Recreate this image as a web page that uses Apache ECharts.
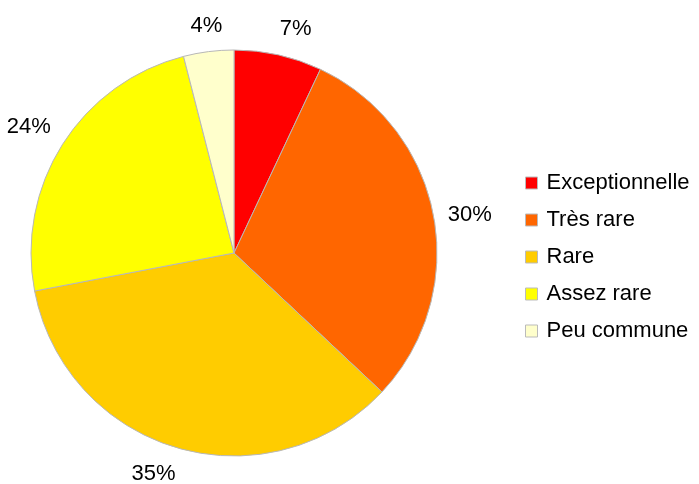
<!DOCTYPE html>
<html>
<head>
<meta charset="utf-8">
<script src="https://cdn.jsdelivr.net/npm/echarts@6/dist/echarts.min.js"></script>
<style>html,body{margin:0;padding:0;background:#fff;}#c{width:699px;height:484px;}</style>
</head>
<body>
<div id="c"></div>
<script>
const categories = ['Exceptionnelle', 'Très rare', 'Rare', 'Assez rare', 'Peu commune'];
const values = [7, 30, 35, 24, 4];
const colors = ['#FF0000', '#FF6600', '#FFCC00', '#FFFF00', '#FFFFCC'];

const PIE_CENTER = [234, 253];

function ramp(s, a, b) {
  const m = Math.min(1, Math.max(0, (Math.abs(s) - a) / b));
  return s < 0 ? -m : m;
}

const chart = echarts.init(document.getElementById('c'), null, {renderer: 'canvas'});
chart.setOption({
  animation: false,
  backgroundColor: '#ffffff',
  legend: {
    orient: 'vertical',
    left: 520,
    top: 167,
    itemWidth: 12,
    itemHeight: 12,
    itemGap: 15,
    icon: 'rect',
    textStyle: {fontFamily: 'Liberation Sans', fontSize: 22, color: '#000', padding: [0, 0, 0, 4]},
    itemStyle: {borderColor: '#bbbbbb', borderWidth: 1},
    data: categories
  },
  series: [{
    type: 'pie',
    center: PIE_CENTER,
    radius: 203,
    startAngle: 90,
    clockwise: true,
    itemStyle: {borderColor: '#b8b8b8', borderWidth: 1},
    label: {show: false},
    labelLine: {show: false},
    data: categories.map((n, i) => ({name: n, value: values[i], itemStyle: {color: colors[i]}}))
  }, {
    type: 'pie',
    silent: true,
    center: PIE_CENTER,
    radius: [212, 224],
    startAngle: 90,
    clockwise: true,
    percentPrecision: 0,
    itemStyle: {color: 'rgba(0,0,0,0)', borderWidth: 0},
    label: {
      show: true,
      position: 'inside',
      formatter: '{d}%',
      fontFamily: 'Liberation Sans',
      fontSize: 22,
      color: '#000',
      overflow: 'none'
    },
    labelLine: {show: false},
    labelLayout: function (p) {
      const r = p.labelRect;
      const cx = r.x + r.width / 2, cy = r.y + r.height / 2;
      const vx = cx - PIE_CENTER[0], vy = cy - PIE_CENTER[1];
      const len = Math.sqrt(vx * vx + vy * vy) || 1;
      const sx = vx / len, sy = vy / len;
      return {
        dx: r.width / 2 * 0.85 * ramp(sx, 0.15, 0.06),
        dy: r.height / 2 * ramp(sy, 0.2, 0.1) + (sy < 0 ? 3 : -2)
      };
    },
    emphasis: {disabled: true},
    data: categories.map((n, i) => ({name: n, value: values[i]}))
  }]
});
</script>
</body>
</html>
